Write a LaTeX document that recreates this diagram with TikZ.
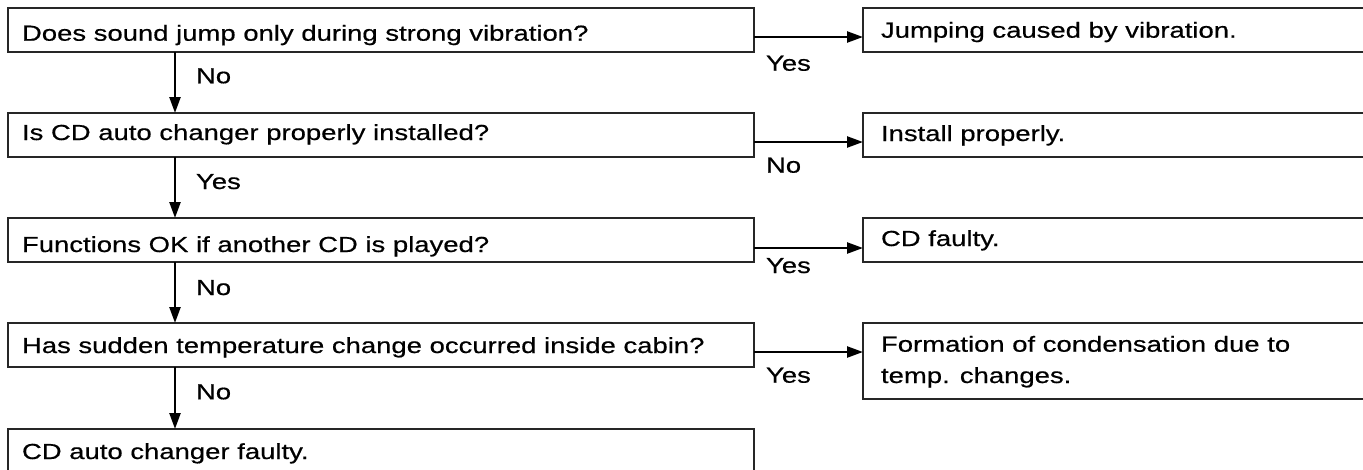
\documentclass[tikz,border=0pt]{standalone}
\usepackage{fontspec}
\setmainfont{Liberation Sans}[FakeStretch=1.26,FakeBold=0.5]
\usetikzlibrary{arrows.meta}
\begin{document}
\begin{tikzpicture}[x=1pt,y=-1pt,
  box/.style={draw=black!85, line width=1.5pt, inner sep=0pt, outer sep=0pt, anchor=north west, minimum height=44pt},
  qbox/.style={box, minimum width=746pt},
  abox/.style={box, minimum width=520pt},
  txt/.style={inner sep=0pt, outer sep=0pt, anchor=base west, font=\fontsize{21.8}{31.3}\selectfont, align=left},
  arr/.style={line width=2.4pt, -{Triangle[length=16pt,width=11pt]}},
]
\useasboundingbox (0,0) rectangle (1363,469);
\clip (0,0) rectangle (1363,469);
% question boxes
\node[qbox] (q1) at (8,8) {};
\node[qbox] (q2) at (8,113) {};
\node[qbox] (q3) at (8,218) {};
\node[qbox] (q4) at (8,323) {};
\node[qbox, minimum height=60pt] (q5) at (8,429) {};
% answer boxes
\node[abox] (a1) at (863,8) {};
\node[abox] (a2) at (863,113) {};
\node[abox] (a3) at (863,218) {};
\node[abox, minimum height=76pt] (a4) at (863,323) {};
% texts
\node[txt] (t1) at (22,40.7) {Does sound jump only during strong vibration?};
\node[txt] (t2) at (22,140) {Is CD auto changer properly installed?};
\node[txt] (t3) at (22,252) {Functions OK if another CD is played?};
\node[txt] (t4) at (22,353) {Has sudden temperature change occurred inside cabin?};
\node[txt] (t5) at (22,459) {CD auto changer faulty.};
\node[txt] (r1) at (881,37.7) {Jumping caused by vibration.};
\node[txt] (r2) at (881,141) {Install properly.};
\node[txt] (r3) at (881,246) {CD faulty.};
\node[txt] (r4) at (881,383) {Formation of condensation due to\\temp. changes.};
% vertical connectors
\coordinate (vx) at (175,0);
\draw[arr] (vx |- q1.south) -- (vx |- q2.north);
\draw[arr] (vx |- q2.south) -- (vx |- q3.north);
\draw[arr] (vx |- q3.south) -- (vx |- q4.north);
\draw[arr] (vx |- q4.south) -- (vx |- q5.north);
% horizontal connectors
\draw[arr] ([yshift=-29pt]q1.north east) -- ([yshift=-29pt]q1.north east -| a1.west);
\draw[arr] ([yshift=-29pt]q2.north east) -- ([yshift=-29pt]q2.north east -| a2.west);
\draw[arr] ([yshift=-30pt]q3.north east) -- ([yshift=-30pt]q3.north east -| a3.west);
\draw[arr] ([yshift=-29pt]q4.north east) -- ([yshift=-29pt]q4.north east -| a4.west);
% labels
\node[txt] (l1) at (196,83.3) {No};
\node[txt] (l2) at (196,189) {Yes};
\node[txt] (l3) at (196,295) {No};
\node[txt] (l4) at (196,399.3) {No};
\node[txt] (h1) at (766,70.7) {Yes};
\node[txt] (h2) at (766,172.7) {No};
\node[txt] (h3) at (766,273) {Yes};
\node[txt] (h4) at (766,382.7) {Yes};
\end{tikzpicture}
\end{document}
